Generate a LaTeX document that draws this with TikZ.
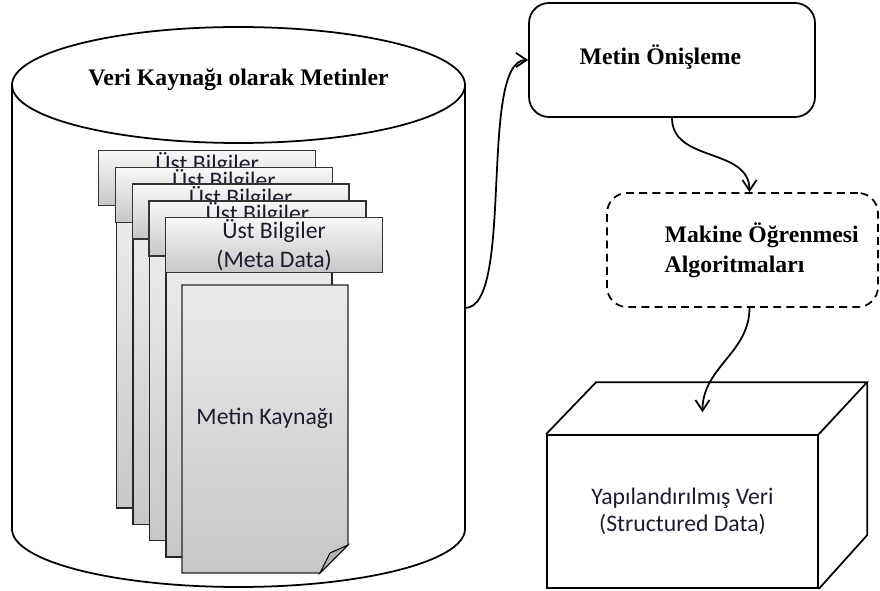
\documentclass[tikz,border=0pt]{standalone}
\usepackage{fontspec}
\setmainfont{Liberation Serif}
\newfontfamily\calibri{Carlito}
\usepackage{tikz}
\usetikzlibrary{positioning, shapes, calc, arrows.meta}
\definecolor{inkc}{HTML}{1C1C2E}

\begin{document}
\begin{tikzpicture}[x=0.02cm, y=-0.02cm, line width=1pt]
	\tikzstyle{hdr}=[draw=black!80, line width=0.8pt, top color=black!3, bottom color=black!22, minimum width=4.34cm, minimum height=1.1cm, anchor=north west, inner sep=0pt, align=center, font=\calibri\fontsize{13.5}{16.5}\selectfont, text=inkc]
	\tikzstyle{pagec}=[draw=black!85, line width=0.8pt, top color=black!8, bottom color=black!22]
	\tikzstyle{lbl}=[font=\bfseries\fontsize{13.5}{17}\selectfont, align=left, text=black]
	\tikzstyle{sanslbl}=[font=\calibri\fontsize{13.5}{15}\selectfont, align=center, text=inkc]
	\tikzstyle{flow}=[line width=1pt, -{Straight Barb[length=6pt,width=8pt]}]
	\useasboundingbox[fill=white] (0,0) rectangle (880,591);

	\draw (12,85) -- (12,529) arc (180:0:226.5 and 58) -- (465,85);
	\draw[fill=white] (238.5,85) ellipse (226.5 and 58);
	\node[lbl] (cyltxt) at (238.5,80) {Veri Kaynağı olarak Metinler};
	\coordinate (cylR) at (465,308);

	\foreach \i in {0,...,3} {
		\draw[pagec] ({116.5+16.5*\i},{218+16.75*\i}) rectangle ({282.5+16.5*\i},{508+16.3*\i});
		\node[hdr] (hdr\i) at ({98+16.75*\i},{150+16.75*\i}) {Üst Bilgiler\\\phantom{(Meta Data)}};
	}
	\draw[pagec] (182,285) -- (348,285) -- (348,545) -- (320,573) -- (182,573) -- cycle;
	\draw[fill=black!30, line width=0.6pt] (320,573) -- (330,553) -- (348,545) -- cycle;
	\node[hdr] (hdr4) at (165,217) {Üst Bilgiler\\(Meta Data)};
	\node[sanslbl] (kaynak) at (265,418) {Metin Kaynağı};

	\node[draw, rounded corners=0.4cm, minimum width=5.72cm, minimum height=2.28cm] (onbox) at (672,60) {};
	\node[lbl, anchor=west] (ontxt) at (573,57) {Metin Önişleme};

	\node[draw, dashed, dash pattern=on 4.5pt off 3pt, rounded corners=0.4cm, minimum width=5.42cm, minimum height=2.28cm] (mlbox) at (742.5,250) {};
	\node[lbl, anchor=west] (mltxt) at (658,250) {Makine Öğrenmesi\\Algoritmaları};

	\node[draw, sanslbl, minimum width=5.42cm, minimum height=3.06cm] (yapi) at (682.5,511.5) {Yapılandırılmış Veri\\(Structured Data)};
	\draw (yapi.north west) -- ++(50,-52) -- ++(271,0) coordinate (backtr) -- (yapi.north east);
	\draw (backtr) -- ++(0,153) -- (yapi.south east);

	\draw[flow] (cylR) .. controls +(50,0) and +(-50,0) .. (onbox.west);
	\draw[flow] (onbox.south) .. controls +(0,45) and +(0,-45) .. ($(mlbox.north)+(7,0)$);
	\draw[flow] ($(mlbox.south)+(7,0)$) .. controls +(0,45) and +(0,-45) .. ($(yapi.north)+(20,-22)$);
\end{tikzpicture}
\end{document}
